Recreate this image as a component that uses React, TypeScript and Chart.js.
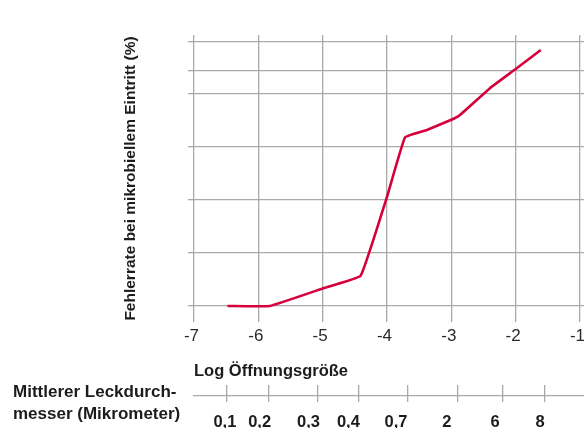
import React, { useEffect, useRef } from 'react';
import { Chart, registerables } from 'chart.js';

Chart.register(...registerables);

// ---- data ----
const logSizes = [-6.48, -5.82, -5.0, -4.41, -4.0, -3.72, -3.38, -2.99, -2.87, -2.4, -2.0, -1.61];
const failureRates = [0, 0, 0.33, 0.57, 2.06, 3.18, 3.32, 3.52, 3.6, 4.11, 4.47, 4.83];
const xTickValues = [-7, -6, -5, -4, -3, -2, -1];
const yGridValues = [0, 1, 2, 3, 4, 4.44, 4.98];
const micronTickPositions = [-6.49, -5.84, -5.08, -4.44, -3.68, -2.9, -2.2, -1.55];
const micronLabelPositions = [-6.52, -5.98, -5.22, -4.6, -3.86, -3.07, -2.32, -1.62];
const micronLabels = ['0,1', '0,2', '0,3', '0,4', '0,7', '2', '6', '8'];
const yTitle = 'Fehlerrate bei mikrobiellem Eintritt (%)';
const xTitle = 'Log Öffnungsgröße';
const leakTitleLines = ['Mittlerer Leckdurch-', 'messer (Mikrometer)'];

const X_MIN = -7;
const X_MAX = -0.938;
const Y_MIN = -0.302;
const Y_MAX = 5.113;

const FONT = '"Liberation Sans", Arial, Helvetica, sans-serif';
const GRID = '#a9a9a9';
const TEXT = '#1c1c1c';

const noPad = (s: any) => {
  s.paddingLeft = 0;
  s.paddingRight = 0;
};

const leakTitlePlugin = {
  id: 'leakTitle',
  afterDraw(chart: any) {
    const ctx = chart.ctx;
    const s = chart.scales.x3;
    ctx.save();
    ctx.font = `bold 17px ${FONT}`;
    ctx.fillStyle = TEXT;
    ctx.textAlign = 'left';
    ctx.textBaseline = 'alphabetic';
    ctx.fillText(leakTitleLines[0], 13, s.top + 1.2);
    ctx.fillText(leakTitleLines[1], 13, s.top + 23.8);
    ctx.restore();
  },
};

export default function App() {
  const ref = useRef<HTMLCanvasElement | null>(null);

  useEffect(() => {
    if (!ref.current) return;
    Chart.defaults.font.family = FONT;
    const chart = new Chart(ref.current, {
      type: 'line',
      data: {
        datasets: [
          {
            data: logSizes.map((x, i) => ({ x, y: failureRates[i] })),
            borderColor: '#d5003b',
            borderWidth: 2.6,
            pointRadius: 0,
            tension: 0.08,
            fill: false,
          },
        ],
      },
      options: {
        animation: false,
        responsive: false,
        devicePixelRatio: 1,
        layout: { padding: { top: 35, left: 0, right: 0, bottom: 0 } },
        plugins: { legend: { display: false }, tooltip: { enabled: false } },
        scales: {
          x: {
            type: 'linear',
            position: 'bottom',
            weight: 1,
            min: X_MIN,
            max: X_MAX,
            afterBuildTicks: (s: any) => {
              s.ticks = xTickValues.map((value) => ({ value }));
            },
            afterFit: (s: any) => {
              noPad(s);
              s.height = 63;
            },
            grid: { color: GRID, lineWidth: 1.3, drawTicks: false },
            border: { display: false },
            ticks: {
              font: { size: 17 },
              color: '#2a2a2a',
              padding: 4.5,
              labelOffset: -2.5,
              maxRotation: 0,
              autoSkip: false,
              callback: (v: any) => String(v),
            },
            title: {
              display: true,
              text: xTitle,
              align: 'start',
              color: TEXT,
              font: { size: 16.5, weight: 'bold' },
              padding: { top: 0, bottom: 3.4 },
            },
          },
          x2: {
            type: 'linear',
            position: 'bottom',
            weight: 2,
            min: X_MIN,
            max: X_MAX,
            afterBuildTicks: (s: any) => {
              s.ticks = micronTickPositions.map((value) => ({ value }));
            },
            afterFit: (s: any) => {
              noPad(s);
              s.height = 10.5;
            },
            grid: {
              color: GRID,
              lineWidth: 1.3,
              drawOnChartArea: false,
              drawTicks: true,
              tickLength: 17,
            },
            border: { display: false },
            ticks: { display: false, autoSkip: false },
          },
          x3: {
            type: 'linear',
            position: 'bottom',
            weight: 3,
            min: X_MIN,
            max: X_MAX,
            afterBuildTicks: (s: any) => {
              s.ticks = micronLabelPositions.map((value) => ({ value }));
            },
            afterFit: (s: any) => {
              noPad(s);
              s.height = 32.5;
            },
            grid: { display: false, drawTicks: false },
            border: { display: true, color: GRID, width: 1.3 },
            ticks: {
              font: { size: 16.5, weight: 'bold' },
              color: TEXT,
              padding: 17,
              maxRotation: 0,
              autoSkip: false,
              callback: (_v: any, i: number) => micronLabels[i],
            },
          },
          y: {
            type: 'linear',
            min: Y_MIN,
            max: Y_MAX,
            afterBuildTicks: (s: any) => {
              s.ticks = yGridValues.map((value) => ({ value }));
            },
            afterFit: (s: any) => {
              s.width = 194;
              s.paddingTop = 0;
              s.paddingBottom = 0;
            },
            grid: { color: GRID, lineWidth: 1.3, drawTicks: true, tickLength: 6 },
            border: { display: false },
            ticks: { display: false },
            title: {
              display: true,
              text: yTitle,
              color: TEXT,
              font: { size: 15.5, weight: 'bold' },
              padding: { top: 121.7, bottom: 0 },
            },
          },
        },
      } as any,
      plugins: [leakTitlePlugin],
    });
    return () => chart.destroy();
  }, []);

  return (
    <div style={{ position: 'absolute', left: 0, top: 0, width: 584, height: 428, overflow: 'hidden', background: '#fff' }}>
      <canvas ref={ref} width={584} height={428} style={{ display: 'block', width: 584, height: 428 }} />
    </div>
  );
}
